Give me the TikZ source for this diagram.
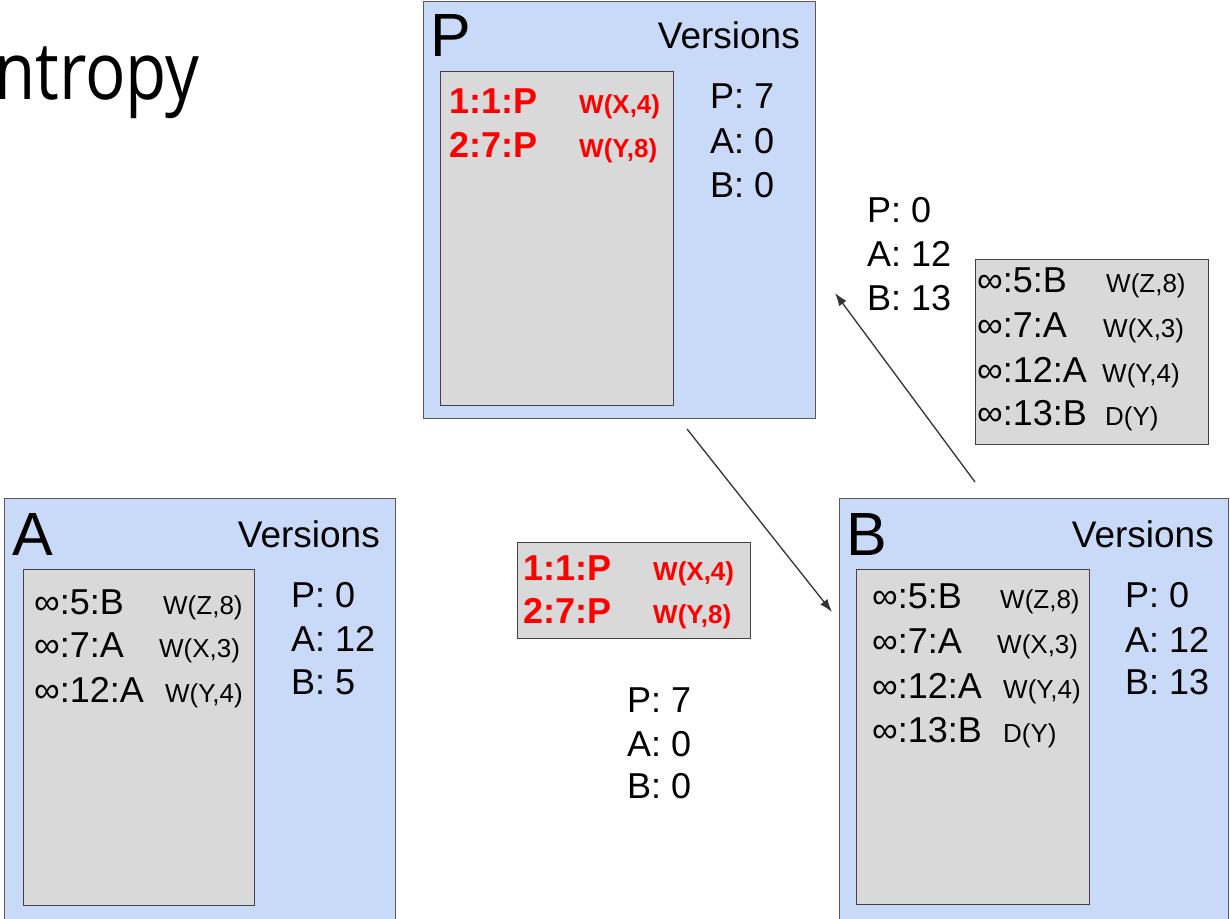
\documentclass[tikz,border=0pt]{standalone}
\usepackage{fontspec}
\setmainfont{Liberation Sans}
\newfontfamily\titlefont{Open Sans}
\usetikzlibrary{arrows.meta}
\definecolor{boxblue}{HTML}{C9DAF8}
\definecolor{boxedge}{HTML}{595959}
\definecolor{loggray}{HTML}{D9D9D9}
\definecolor{logedge}{HTML}{434343}
\definecolor{arrowc}{HTML}{333333}
\tikzset{
 host/.style={draw=boxedge, fill=boxblue, line width=1.3pt, inner sep=0pt, anchor=north west},
 logbox/.style={draw=logedge, fill=loggray, line width=1.3pt, inner sep=0pt, anchor=north west},
 big/.style={inner sep=0pt, anchor=base west, font=\fontsize{61}{61}\selectfont},
 ver/.style={inner sep=0pt, anchor=base east, font=\fontsize{37}{37}\selectfont},
 txt/.style={inner sep=0pt, anchor=base west, font=\fontsize{36}{36}\selectfont},
 ent/.style={inner sep=0pt, anchor=base west, font=\fontsize{36}{36}\selectfont},
 op/.style={inner sep=0pt, anchor=base west, font=\fontsize{26}{26}\selectfont},
 rent/.style={inner sep=0pt, anchor=base west, text=red, font=\fontsize{36}{36}\selectfont\bfseries},
 rop/.style={inner sep=0pt, anchor=base west, text=red, font=\fontsize{26}{26}\selectfont\bfseries},
 conn/.style={draw=arrowc, line width=1.3pt, -{Latex[length=13pt,width=9pt]}},
}
\begin{document}
\begin{tikzpicture}[x=1pt,y=-1pt]
\useasboundingbox (0,0) rectangle (1230,918);
\fill[white] (0,0) rectangle (1230,918);

% title
\node[inner sep=0pt, anchor=base west, xscale=.84, font=\titlefont\fontsize{80}{80}\selectfont] (title) at (-6,99) {ntropy};

% ---------- P ----------
\node[host, minimum width=392pt, minimum height=417pt] (P) at (423,1) {};
\node[logbox, minimum width=233pt, minimum height=334pt] (Plog) at (440,71) {};
\node[big] (Pname) at (430,56) {P};
\node[ver] (Pver) at (800,48) {Versions};
\node[rent] (Pe1) at (449,113) {1:1:P};
\node[rop]  (Po1) at (579,113) {W(X,4)};
\node[rent] (Pe2) at (449,157) {2:7:P};
\node[rop]  (Po2) at (579,157) {W(Y,8)};
\node[txt] (Pc1) at (710,108) {P: 7};
\node[txt] (Pc2) at (710,153) {A: 0};
\node[txt] (Pc3) at (710,197) {B: 0};

% ---------- A ----------
\node[host, minimum width=391pt, minimum height=430pt] (A) at (4,498) {};
\node[logbox, minimum width=231pt, minimum height=336pt] (Alog) at (23,569) {};
\node[big] (Aname) at (12,555) {A};
\node[ver] (Aver) at (380,547) {Versions};
\node[ent] (Ae1) at (34,614) {∞:5:B};
\node[op]  (Ao1) at (163,614) {W(Z,8)};
\node[ent] (Ae2) at (34,657) {∞:7:A};
\node[op]  (Ao2) at (159,657) {W(X,3)};
\node[ent] (Ae3) at (34,702) {∞:12:A};
\node[op]  (Ao3) at (165,702) {W(Y,4)};
\node[txt] (Ac1) at (291,607) {P: 0};
\node[txt] (Ac2) at (291,651) {A: 12};
\node[txt] (Ac3) at (291,694) {B: 5};

% ---------- B ----------
\node[host, minimum width=389pt, minimum height=430pt] (B) at (839,498) {};
\node[logbox, minimum width=233pt, minimum height=335pt] (Blog) at (856,569) {};
\node[big] (Bname) at (846,555) {B};
\node[ver] (Bver) at (1214,547) {Versions};
\node[ent] (Be1) at (872,608) {∞:5:B};
\node[op]  (Bo1) at (1000,608) {W(Z,8)};
\node[ent] (Be2) at (872,653) {∞:7:A};
\node[op]  (Bo2) at (997,653) {W(X,3)};
\node[ent] (Be3) at (872,698) {∞:12:A};
\node[op]  (Bo3) at (1003,698) {W(Y,4)};
\node[ent] (Be4) at (872,742) {∞:13:B};
\node[op]  (Bo4) at (1003,742) {D(Y)};
\node[txt] (Bc1) at (1125,607) {P: 0};
\node[txt] (Bc2) at (1125,652) {A: 12};
\node[txt] (Bc3) at (1125,694) {B: 13};

% ---------- message B -> P ----------
\node[logbox, minimum width=233pt, minimum height=185pt] (BPmsg) at (975,259) {};
\node[ent] (Me1) at (977,292) {∞:5:B};
\node[op]  (Mo1) at (1106,292) {W(Z,8)};
\node[ent] (Me2) at (977,337) {∞:7:A};
\node[op]  (Mo2) at (1103,337) {W(X,3)};
\node[ent] (Me3) at (977,382) {∞:12:A};
\node[op]  (Mo3) at (1102,382) {W(Y,4)};
\node[ent] (Me4) at (977,425) {∞:13:B};
\node[op]  (Mo4) at (1105,425) {D(Y)};
\node[txt] (Mc1) at (867,222) {P: 0};
\node[txt] (Mc2) at (867,266) {A: 12};
\node[txt] (Mc3) at (867,310) {B: 13};

% ---------- message P -> B ----------
\node[logbox, minimum width=233pt, minimum height=96pt] (PBmsg) at (517,542) {};
\node[rent] (Ne1) at (523,580) {1:1:P};
\node[rop]  (No1) at (653,580) {W(X,4)};
\node[rent] (Ne2) at (523,623) {2:7:P};
\node[rop]  (No2) at (653,623) {W(Y,8)};
\node[txt] (Nc1) at (627,712) {P: 7};
\node[txt] (Nc2) at (627,756) {A: 0};
\node[txt] (Nc3) at (627,798) {B: 0};

% ---------- arrows ----------
\coordinate (a1s) at (975,482);
\coordinate (a1e) at (835,293);
\coordinate (a2s) at (687,429);
\coordinate (a2e) at (832,612);
\draw[conn] (a1s) -- (a1e);
\draw[conn] (a2s) -- (a2e);
\end{tikzpicture}
\end{document}
